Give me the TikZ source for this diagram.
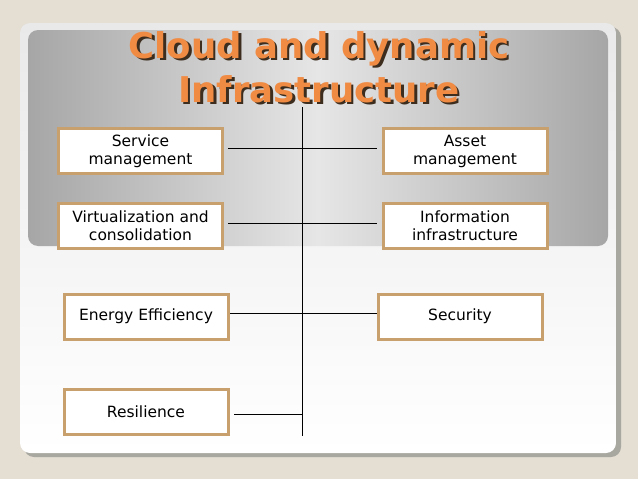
\documentclass[tikz,border=0pt]{standalone}
\usepackage{fontspec}
\setmainfont{DejaVu Sans}
\definecolor{slidebg}{RGB}{228,222,211}
\definecolor{cardshadow}{RGB}{168,167,160}
\definecolor{cardtop}{RGB}{233,233,233}
\definecolor{panelside}{RGB}{166,166,166}
\definecolor{panelmid}{RGB}{230,230,230}
\definecolor{boxframe}{RGB}{200,160,110}
\definecolor{titleorange}{RGB}{240,139,68}
\definecolor{titleshadow}{RGB}{60,45,30}
\newcommand\dropshadow[1]{\makebox[0pt][l]{\hspace{2.5pt}\raisebox{-2.5pt}{\color{titleshadow}#1}}#1}
\tikzset{
    item/.style = {draw = boxframe, line width = 3pt, fill = white, minimum width = 164pt, minimum height = 45pt, inner sep = 0pt, align = center, font = \fontsize{15.5}{18}\selectfont},
    link/.style = {line width = 1pt, black},
    headline/.style = {font = \fontsize{35.5}{44}\selectfont\bfseries, text = titleorange, inner sep = 0pt, anchor = base},
}

\begin{document}
\begin{tikzpicture}[x = 1pt, y = -1pt]
    \useasboundingbox (0,0) rectangle (638,479);
    \fill[slidebg] (0,0) rectangle (638,479);

    % slide card
    \fill[cardshadow, rounded corners = 10pt] (24,27) rectangle (621,457);
    \shade[top color = cardtop, bottom color = white, rounded corners = 10pt] (20,23) rectangle (616,453);
    \shade[left color = panelside, right color = panelside, middle color = panelmid, rounded corners = 10pt] (28,30) rectangle (608,246);

    \foreach \txt/\base [count = \i] in {Cloud and dynamic/58, Infrastructure/102} {
        \node[headline] (title\i) at (319, \base) {\dropshadow{\txt}};
    }

    \node[item] (svc) at (140.5, 151) {Service\\management};
    \node[item] (virt) at (140.5, 225.5) {Virtualization and\\consolidation};
    \node[item] (energy) at (146, 316.5) {Energy Efficiency};
    \node[item] (res) at (146, 412) {Resilience};

    \node[item] (asset) at (465, 151) {Asset\\management};
    \node[item] (info) at (465, 225.5) {Information\\infrastructure};
    \node[item] (sec) at (460, 316.5) {Security};

    \coordinate (spinetop) at (302.5, 107);
    \coordinate (spinebot) at (302.5, 436);
    \draw[link] (spinetop) -- (spinebot);

    \draw[link] ([shift = {(4, -3)}]svc.east) -- ([shift = {(-4.5, -3)}]asset.west);
    \draw[link] ([shift = {(4, -2.5)}]virt.east) -- ([shift = {(-4.5, -2.5)}]info.west);
    \draw[link] ([shift = {(0.5, -3.5)}]energy.east) -- ([shift = {(0, -3.5)}]sec.west);
    \draw[link] ([shift = {(4.5, 2)}]res.east) coordinate (resjoin) -- (resjoin -| spinetop);
\end{tikzpicture}
\end{document}
